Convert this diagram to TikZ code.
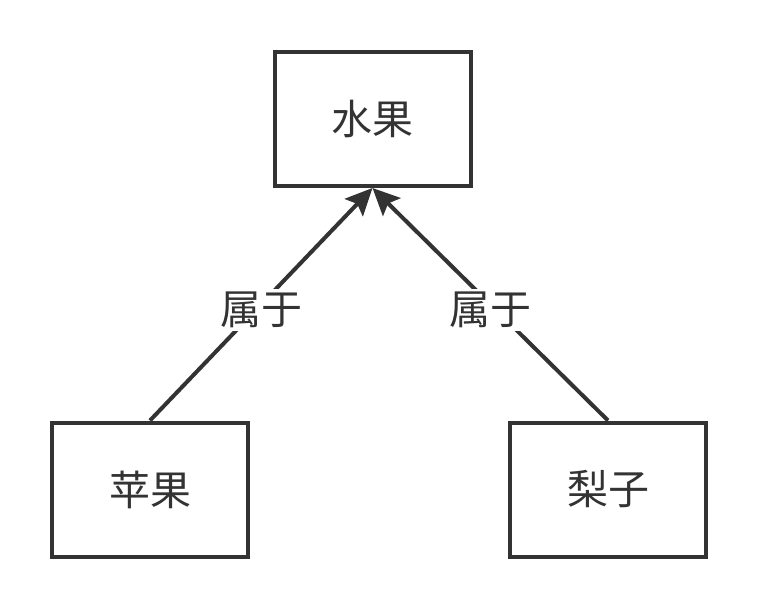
\documentclass[tikz,border=0pt]{standalone}
\usepackage{fontspec}
\setmainfont{Noto Sans CJK SC}
\usetikzlibrary{arrows.meta}
\definecolor{ink}{HTML}{333333}
\begin{document}
\begin{tikzpicture}[x=1pt,y=-1pt,
  box/.style={draw=ink, line width=4pt, minimum width=196pt, minimum height=134pt,
    inner sep=0pt, text=ink, font=\fontsize{41}{44}\selectfont},
  link/.style={draw=ink, line width=4pt, -{Stealth[length=27pt,width=25pt,inset=5pt]}},
  lbl/.style={fill=white, text=ink, inner sep=3pt, yshift=-6pt, font=\fontsize{41}{44}\selectfont}]
\useasboundingbox[fill=white] (0,0) rectangle (758,612);
\node[box] (fruit) at (372.5,119) {水果};
\node[box] (apple) at (150,489.5) {苹果};
\node[box] (pear) at (608,489.5) {梨子};
\draw[link] (apple.north) -- node[lbl] (l1) {属于} (fruit.south);
\draw[link] (pear.north) -- node[lbl] (l2) {属于} (fruit.south);
\end{tikzpicture}
\end{document}
